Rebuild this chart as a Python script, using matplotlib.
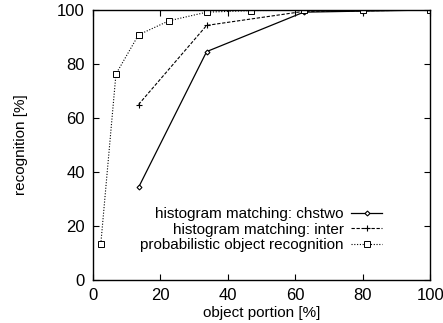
import matplotlib.pyplot as plt

plt.rcParams['font.family'] = ['Liberation Sans', 'DejaVu Sans']

# object portion [%] and recognition [%]
x_chstwo = [13.5, 33.7, 62.5, 80, 100]
y_chstwo = [34.3, 84.6, 99.2, 99.6, 100]

x_inter = [13.5, 33.7, 62.5, 80, 100]
y_inter = [65.0, 94.3, 99.5, 99.7, 100]

x_prob = [2.3, 6.8, 13.5, 22.5, 33.7, 47, 62.5, 80, 100]
y_prob = [13.3, 76.3, 90.8, 96.0, 99.2, 99.8, 99.9, 100, 100]

fig = plt.figure(figsize=(4.43, 3.23), dpi=100)
ax = fig.add_axes([0.21, 0.133, 0.761, 0.836])

ax.plot(x_chstwo, y_chstwo, color='black', lw=0.9, ls='-', marker='D',
        ms=2.5, mfc='white', mew=0.8, label='histogram matching: chstwo')
ax.plot(x_inter, y_inter, color='black', lw=0.8, ls=(0, (3, 1.5)), marker='+',
        ms=4, mew=0.8, label='histogram matching: inter')
ax.plot(x_prob, y_prob, color='black', lw=0.8, ls=(0, (1, 1.5)), marker='s',
        ms=4, mfc='white', mew=0.7, label='probabilistic object recognition')

ax.set_xlim(0, 100)
ax.set_ylim(0, 100)
ax.set_xticks([0, 20, 40, 60, 80, 100])
ax.set_yticks([0, 20, 40, 60, 80, 100])
ax.tick_params(direction='in', top=True, right=True, length=4, width=0.8,
               labelsize=12, pad=6)
for s in ax.spines.values():
    s.set_linewidth(1.0)

ax.set_xlabel('object portion [%]', fontsize=11, labelpad=2)
ax.set_ylabel('recognition [%]', fontsize=11, labelpad=21)

leg = ax.legend(loc='lower right', bbox_to_anchor=(0.875, 0.08), frameon=False,
                markerfirst=False, fontsize=11, handlelength=2.0,
                labelspacing=0.1, handletextpad=0.5, borderaxespad=0)
for t in leg.get_texts():
    t.set_ha('right')
leg._legend_box.align = 'right'

plt.savefig('out.png', dpi=100)
